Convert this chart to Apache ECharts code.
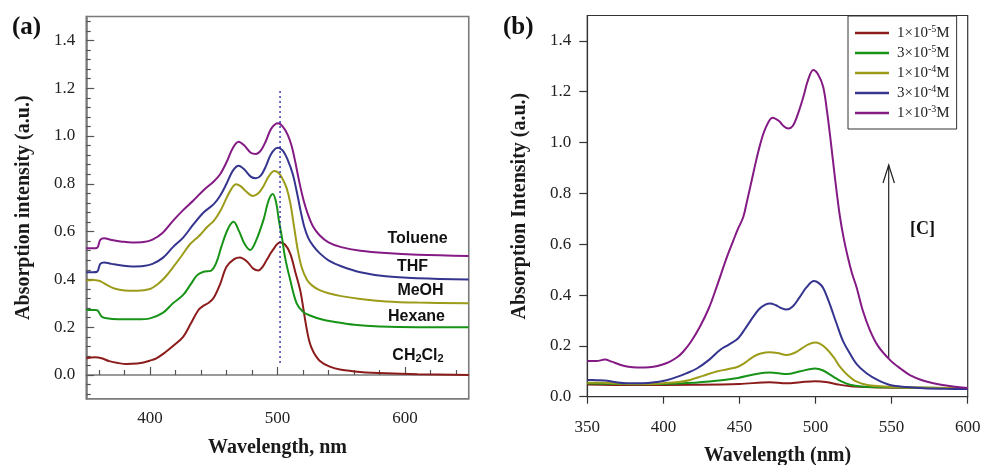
<!DOCTYPE html>
<html><head><meta charset="utf-8">
<script src="https://cdn.jsdelivr.net/npm/echarts/dist/echarts.min.js"></script>
<style>html,body{margin:0;padding:0;background:#fff}#c{width:985px;height:465px}</style>
</head><body><div id="c"></div>
<script>
// ---------- Panel (a): solvent spectra ----------
const solventNames = ['CH2Cl2', 'Hexane', 'MeOH', 'THF', 'Toluene'];
const dcmX = [350,357,362,368,375,382,390,395,400,405,412,418,426,432,438,442,446,450,455,460,466,470.5,476,481,485,488,491.5,496,502,506,510,514,518,522,525,528,533,541,550,565,585,610,650];
const dcmY = [0.07,0.074,0.07,0.058,0.05,0.046,0.048,0.052,0.06,0.07,0.095,0.121,0.16,0.215,0.272,0.29,0.302,0.323,0.38,0.453,0.485,0.492,0.475,0.445,0.437,0.45,0.481,0.52,0.554,0.545,0.508,0.43,0.35,0.22,0.14,0.098,0.06,0.035,0.022,0.013,0.007,0.003,0.0];
const hexX = [350,357,359,362,366,375,390,400,410,418,426,432,437,442,448,452,456,461,465.5,470,474,478.5,483,489,493,496.3,499,501,503.5,506,510,515,520,525,535,545,560,580,610,650];
const hexY = [0.272,0.272,0.27,0.245,0.237,0.233,0.233,0.237,0.26,0.3,0.335,0.38,0.418,0.432,0.437,0.47,0.537,0.61,0.641,0.6,0.55,0.523,0.56,0.649,0.73,0.757,0.72,0.65,0.575,0.49,0.397,0.3,0.265,0.25,0.232,0.222,0.21,0.203,0.2,0.2];
const meohX = [350,356,359,362,366,372,380,390,400,406,412,418,425,431,436,440,445,450,455,460,464,467.5,471,475,480.5,485,489,493,497.5,501,504,507,510,513,516,519,523,527,533,540,550,565,585,610,650];
const meohY = [0.395,0.397,0.395,0.39,0.377,0.362,0.354,0.353,0.36,0.38,0.41,0.45,0.5,0.545,0.57,0.59,0.62,0.645,0.685,0.74,0.78,0.798,0.79,0.77,0.749,0.76,0.79,0.83,0.854,0.845,0.82,0.785,0.72,0.62,0.52,0.45,0.4,0.375,0.355,0.342,0.33,0.318,0.308,0.303,0.30];
const thfX = [350,355,358.5,361,364,370,378,386,395,402,410,418,426,434,442,450,455,460,465,469.5,474,479,483,487,491,495,500,504,508,512,515,518,521,524,528,533,540,550,565,585,610,650];
const thfY = [0.43,0.43,0.432,0.465,0.471,0.465,0.458,0.454,0.456,0.465,0.49,0.535,0.575,0.63,0.68,0.715,0.75,0.8,0.855,0.876,0.86,0.83,0.823,0.835,0.875,0.925,0.951,0.94,0.9,0.84,0.77,0.69,0.62,0.575,0.54,0.51,0.48,0.455,0.43,0.413,0.405,0.40];
const tolX = [350,355,358.5,361,364,370,378,386,395,402,410,418,426,434,442,450,455,460,465,469.5,474,479,483,487,491,495,500.5,504,508,511,514,517,520.5,524,528,533,540,550,565,585,610,650];
const tolY = [0.53,0.53,0.532,0.565,0.572,0.565,0.558,0.554,0.556,0.566,0.595,0.645,0.69,0.73,0.773,0.81,0.84,0.89,0.95,0.976,0.96,0.93,0.925,0.94,0.98,1.03,1.053,1.04,1.005,0.96,0.89,0.81,0.73,0.67,0.62,0.585,0.555,0.535,0.52,0.51,0.503,0.498];
const markerWavelength = [502, 502];
const markerRange = [0.05, 1.2];
const aXLabels = [400, 500, 600];
const aYLabels = [0, 0.2, 0.4, 0.6, 0.8, 1.0, 1.2, 1.4];

// ---------- Panel (b): concentration spectra ----------
const concMantissa = ['1', '3', '1', '3', '1'];
const concExponent = ['-5', '-5', '-4', '-4', '-3'];
const c1X = [350,380,420,450,470,481,490,499.6,508,515,525,545,570,600];
const c1Y = [0.048,0.046,0.047,0.05,0.057,0.053,0.057,0.061,0.057,0.048,0.04,0.036,0.035,0.034];
const c2X = [350,370,390,410,430,449,460,470,476,481,490,499.6,505,511.6,517,522.6,530,545,570,600];
const c2Y = [0.052,0.05,0.049,0.052,0.06,0.074,0.088,0.095,0.092,0.089,0.1,0.111,0.103,0.079,0.06,0.047,0.04,0.037,0.035,0.034];
const c3X = [350,360,370,380,390,400,410,417.5,426,435,442,449,454,459,464,470,475,481,486,491,495,499.6,503,507,512,516,521,527,535,545,560,580,600];
const c3Y = [0.055,0.055,0.052,0.05,0.05,0.053,0.058,0.066,0.082,0.099,0.108,0.118,0.135,0.157,0.17,0.175,0.172,0.164,0.172,0.19,0.205,0.213,0.208,0.19,0.155,0.118,0.085,0.059,0.045,0.04,0.036,0.035,0.034];
const c4X = [350,356,361.5,368,376,386,396,402,409,415,422,430,437,443,449,454,459,463,467,470,474,477,481,485,489.7,494,499,502,505,509,513.8,518,522.6,527,533.5,541,549,560,571,585,600];
const c4Y = [0.066,0.065,0.064,0.058,0.053,0.053,0.058,0.065,0.078,0.092,0.111,0.145,0.183,0.205,0.229,0.27,0.314,0.345,0.362,0.367,0.36,0.35,0.343,0.355,0.393,0.43,0.455,0.448,0.428,0.37,0.288,0.22,0.17,0.128,0.092,0.065,0.046,0.038,0.033,0.031,0.03];
const c5X = [350,356,361.5,366,371.5,377,382.5,388,393.5,399,404,409,413,418,424,430,435,441.5,446,449,452.5,455,458,461,463.5,467,471.8,476,479,482,485,488.5,492,495,498.5,501.5,505,507.5,509.5,512,514,516,518.3,521,524,527,531,535.7,541,549,556,562,570,577.4,588,600];
const c5Y = [0.14,0.14,0.146,0.138,0.126,0.118,0.115,0.115,0.118,0.126,0.137,0.155,0.177,0.215,0.275,0.35,0.432,0.545,0.615,0.66,0.707,0.77,0.85,0.93,0.99,1.055,1.098,1.085,1.065,1.055,1.065,1.114,1.18,1.245,1.286,1.27,1.22,1.125,1.03,0.9,0.8,0.71,0.63,0.555,0.485,0.43,0.34,0.262,0.2,0.144,0.11,0.085,0.065,0.053,0.042,0.034];
const bXLabels = [350, 400, 450, 500, 550, 600];
const bYLabels = [0, 0.2, 0.4, 0.6, 0.8, 1.0, 1.2, 1.4];

// ---------- build ----------
const zip = (xs, ys) => xs.map((x, i) => [x, ys[i]]);
const COL = ['#8c1c1c', '#179317', '#9c9c1a', '#35358f', '#841a84'];
const SERIF = '"Liberation Serif", "DejaVu Serif", serif';
const SANS = '"Liberation Sans", Arial, sans-serif';

const aData = [zip(dcmX, dcmY), zip(hexX, hexY), zip(meohX, meohY), zip(thfX, thfY), zip(tolX, tolY)];
const bData = [zip(c1X, c1Y), zip(c2X, c2Y), zip(c3X, c3Y), zip(c4X, c4Y), zip(c5X, c5Y)];
const concNames = concMantissa.map((m, i) => m + '×10^' + concExponent[i] + 'M');

// minor tick positions for panel (a)
const aXMinor = [];
for (let v = 360; v <= 640; v += 20) if (v % 100 !== 0) aXMinor.push(v);
const aYMinor = [];
for (let i = -2; i <= 37; i++) if (i % 5 !== 0) aYMinor.push(+(i * 0.04).toFixed(2));

const frameA = { lineStyle: { color: '#7a7a7a', width: 1.6 } };
const labelStyle = { fontFamily: SERIF, fontSize: 17, color: '#222' };
const titleStyle = { fontFamily: SERIF, fontSize: 20, fontWeight: 'bold', color: '#1a1a1a' };

const series = [];
aData.forEach((d, i) => series.push({
  name: solventNames[i], type: 'line', xAxisIndex: 0, yAxisIndex: 0, data: d,
  smooth: 0.35, symbol: 'none', lineStyle: { color: COL[i], width: 2 }, itemStyle: { color: COL[i] }, z: 3
}));
series.push({
  name: 'marker', type: 'line', xAxisIndex: 0, yAxisIndex: 0,
  data: zip(markerWavelength, markerRange), symbol: 'none',
  lineStyle: { color: '#1f1fb0', width: 1.3, type: [2, 3] }, z: 4
});
bData.forEach((d, i) => series.push({
  name: concNames[i], type: 'line', xAxisIndex: 2, yAxisIndex: 2, data: d,
  smooth: 0.35, symbol: 'none', lineStyle: { color: COL[i], width: 2 }, itemStyle: { color: COL[i] }, z: 3
}));

const option = {
  animation: false,
  backgroundColor: '#fff',
  grid: [
    { left: 86.25, top: 16.5, width: 382.5, height: 382.4, show: true, borderColor: '#7a7a7a', borderWidth: 1.6, containLabel: false, outerBoundsMode: 'none' },
    { left: 587.3, top: 15.5, width: 380.4, height: 381.2, show: true, borderColor: '#333', borderWidth: 1.2, containLabel: false, outerBoundsMode: 'none' }
  ],
  xAxis: [
    { gridIndex: 0, type: 'value', min: 350, max: 650, position: 'bottom',
      axisLine: frameA, splitLine: { show: false },
      axisTick: { inside: true, length: 8, customValues: aXLabels, lineStyle: { color: '#555', width: 1.2 } },
      axisLabel: Object.assign({ customValues: aXLabels, margin: 11 }, labelStyle),
      name: 'Wavelength, nm', nameLocation: 'middle', nameGap: 39, nameTextStyle: titleStyle },
    { gridIndex: 0, type: 'value', min: 350, max: 650, position: 'bottom',
      axisLine: { show: false }, splitLine: { show: false },
      axisTick: { inside: true, length: 5, customValues: aXMinor, lineStyle: { color: '#555', width: 1.2 } },
      axisLabel: { show: false } },
    { gridIndex: 1, type: 'value', min: 350, max: 600, position: 'bottom',
      axisLine: { lineStyle: { color: '#333', width: 1.2 } }, splitLine: { show: false },
      axisTick: { inside: false, length: 7, customValues: bXLabels, lineStyle: { color: '#333', width: 1.2 } },
      axisLabel: Object.assign({ customValues: bXLabels, margin: 22 }, labelStyle),
      name: 'Wavelength (nm)', nameLocation: 'middle', nameGap: 49, nameTextStyle: titleStyle }
  ],
  yAxis: [
    { gridIndex: 0, type: 'value', min: -0.1, max: 1.5, position: 'left',
      axisLine: frameA, splitLine: { show: false },
      axisTick: { inside: true, length: 8, customValues: aYLabels, lineStyle: { color: '#555', width: 1.2 } },
      axisLabel: Object.assign({ customValues: aYLabels, margin: 11, formatter: v => v.toFixed(1) }, labelStyle),
      name: 'Absorption intensity (a.u.)', nameLocation: 'middle', nameGap: 52, nameTextStyle: titleStyle },
    { gridIndex: 0, type: 'value', min: -0.1, max: 1.5, position: 'left',
      axisLine: { show: false }, splitLine: { show: false },
      axisTick: { inside: true, length: 4.5, customValues: aYMinor, lineStyle: { color: '#555', width: 1.2 } },
      axisLabel: { show: false } },
    { gridIndex: 1, type: 'value', min: 0, max: 1.5, position: 'left',
      axisLine: { lineStyle: { color: '#333', width: 1.2 } }, splitLine: { show: false },
      axisTick: { inside: false, length: 8, customValues: bYLabels, lineStyle: { color: '#333', width: 1.2 } },
      axisLabel: Object.assign({ customValues: bYLabels, margin: 16, formatter: v => v.toFixed(1) }, labelStyle),
      name: 'Absorption Intensity (a.u.)', nameLocation: 'middle', nameGap: 57, nameTextStyle: titleStyle }
  ],
  legend: {
    data: concNames, orient: 'vertical', left: 848, top: 16, icon: 'rect',
    padding: [8, 7, 7, 7], itemGap: 2, itemWidth: 34, itemHeight: 2.5,
    borderColor: '#333', borderWidth: 1, backgroundColor: '#fff',
    formatter: name => {
      const i = concNames.indexOf(name);
      return concMantissa[i] + '×10{s|' + concExponent[i] + '}M';
    },
    textStyle: {
      fontFamily: SERIF, fontSize: 15, lineHeight: 18, color: '#222', padding: [0, 0, 0, 3],
      rich: { s: { fontFamily: SERIF, fontSize: 10, color: '#222', verticalAlign: 'top', lineHeight: 9 } }
    }
  },
  graphic: [
    { type: 'text', left: 12, top: 15, style: { text: '(a)', font: 'bold 25px ' + SERIF, fill: '#111' } },
    { type: 'text', left: 503, top: 15, style: { text: '(b)', font: 'bold 25px ' + SERIF, fill: '#111' } },
    { type: 'text', x: 417.5, y: 239, style: { text: 'Toluene', font: 'bold 16px ' + SANS, fill: '#111', align: 'center', verticalAlign: 'middle' } },
    { type: 'text', x: 412.5, y: 266.5, style: { text: 'THF', font: 'bold 16px ' + SANS, fill: '#111', align: 'center', verticalAlign: 'middle' } },
    { type: 'text', x: 420.5, y: 290.5, style: { text: 'MeOH', font: 'bold 16px ' + SANS, fill: '#111', align: 'center', verticalAlign: 'middle' } },
    { type: 'text', x: 416.5, y: 317, style: { text: 'Hexane', font: 'bold 16px ' + SANS, fill: '#111', align: 'center', verticalAlign: 'middle' } },
    { type: 'text', x: 418, y: 356, style: {
        text: 'CH{d|2}Cl{d|2}', fill: '#111', align: 'center', verticalAlign: 'middle',
        font: 'bold 16px ' + SANS,
        rich: { d: { font: 'bold 11px ' + SANS, fill: '#111', verticalAlign: 'bottom', lineHeight: 11, padding: [5, 0, 0, 0] } } } },
    { type: 'line', shape: { x1: 888.7, y1: 358, x2: 888.7, y2: 165 }, style: { stroke: '#222', lineWidth: 1.2 } },
    { type: 'polyline', shape: { points: [[883, 183], [888.7, 165], [894.4, 183]] }, style: { stroke: '#222', lineWidth: 1.2, fill: null } },
    { type: 'text', x: 922.5, y: 229, style: { text: '[C]', font: 'bold 18px ' + SERIF, fill: '#111', align: 'center', verticalAlign: 'middle' } }
  ],
  series: series
};

const chart = echarts.init(document.getElementById('c'), null, { renderer: 'canvas' });
chart.setOption(option);
</script></body></html>
